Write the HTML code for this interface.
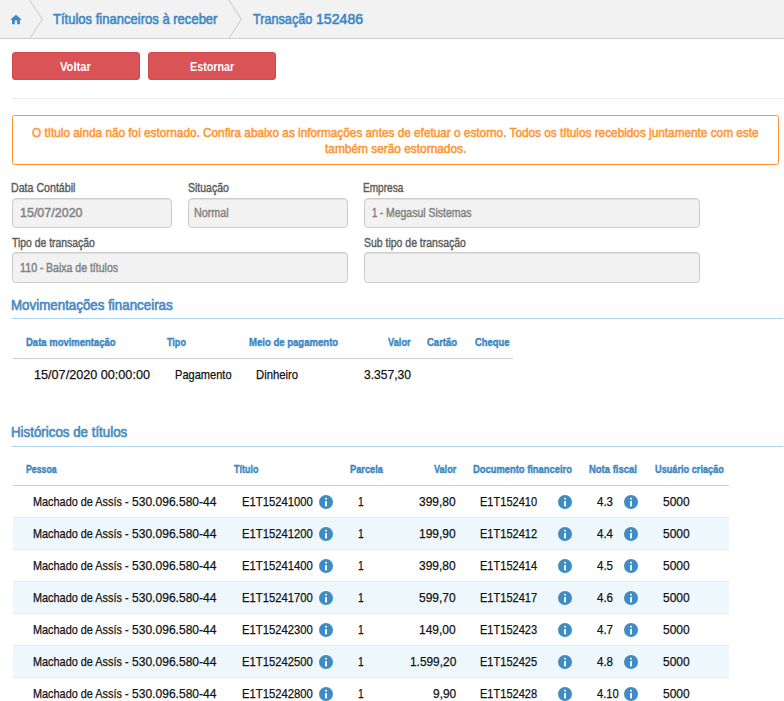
<!DOCTYPE html>
<html><head><meta charset="utf-8"><title>Transação 152486</title>
<style>
html,body{margin:0;padding:0;background:#fff}
body{width:784px;height:701px;position:relative;overflow:hidden;font-family:"Liberation Sans",sans-serif}
.t{position:absolute;display:inline-block;white-space:nowrap;line-height:1;transform-origin:0 50%;font-family:"Liberation Sans",sans-serif}
.ic{position:absolute}
</style></head><body>
<div style="position:absolute;left:0;top:0;width:784px;height:38px;background:#f2f2f2;border-bottom:1px solid #cfcfcf"></div>
<svg style="position:absolute;left:0;top:0" width="784" height="39" viewBox="0 0 784 39"><g fill="none" stroke="#d3d3d3" stroke-width="1.2"><polyline points="29.5,0 42.3,19.3 30.2,38"/><polyline points="228.7,0 241.3,19.3 229.2,38"/></g><g transform="translate(9.2,13) scale(0.565)"><path d="M10 20v-6.8h4v6.8h5v-8h3.4L12 3 1.6 12h3.4v8z" fill="#3b8ac4"/></g></svg>
<div style="position:absolute;left:12px;top:52px;width:128px;height:28px;box-sizing:border-box;background:#da5356;border:1px solid #d4484b;border-radius:3px"></div>
<div style="position:absolute;left:148px;top:52px;width:128px;height:28px;box-sizing:border-box;background:#da5356;border:1px solid #d4484b;border-radius:3px"></div>
<div style="position:absolute;left:12px;top:98px;width:771px;height:1px;background:#e9e9e9"></div>
<div style="position:absolute;left:12px;top:115px;width:767px;height:50px;box-sizing:border-box;border:1px solid #ff922e;border-radius:2.5px;background:#fff"></div>
<div style="position:absolute;left:12px;top:198px;width:160px;height:30px;box-sizing:border-box;border:1px solid #cccccc;border-radius:4px;background:#f2f2f2;box-shadow:inset 0 1px 1px rgba(0,0,0,.075)"></div>
<div style="position:absolute;left:188px;top:198px;width:160px;height:30px;box-sizing:border-box;border:1px solid #cccccc;border-radius:4px;background:#f2f2f2;box-shadow:inset 0 1px 1px rgba(0,0,0,.075)"></div>
<div style="position:absolute;left:364px;top:198px;width:336px;height:30px;box-sizing:border-box;border:1px solid #cccccc;border-radius:4px;background:#f2f2f2;box-shadow:inset 0 1px 1px rgba(0,0,0,.075)"></div>
<div style="position:absolute;left:12px;top:252px;width:336px;height:31px;box-sizing:border-box;border:1px solid #cccccc;border-radius:4px;background:#f2f2f2;box-shadow:inset 0 1px 1px rgba(0,0,0,.075)"></div>
<div style="position:absolute;left:364px;top:252px;width:336px;height:31px;box-sizing:border-box;border:1px solid #cccccc;border-radius:4px;background:#f2f2f2;box-shadow:inset 0 1px 1px rgba(0,0,0,.075)"></div>
<div style="position:absolute;left:12px;top:318px;width:771px;height:1px;background:#aad4ee"></div>
<div style="position:absolute;left:12px;top:446px;width:771px;height:1px;background:#aad4ee"></div>
<div style="position:absolute;left:13px;top:358px;width:500px;height:1px;background:#cccccc"></div>
<div style="position:absolute;left:13px;top:485px;width:716px;height:1px;background:#cccccc"></div>
<svg class="ic" style="left:318px;top:494px" width="16" height="16" viewBox="0 0 16 16"><circle cx="8" cy="8" r="7" fill="#3f8bc3"/><rect x="7.1" y="3.9" width="1.9" height="1.6" fill="#fff"/><rect x="7.1" y="7.1" width="1.9" height="5.3" fill="#fff"/></svg>
<svg class="ic" style="left:557px;top:494px" width="16" height="16" viewBox="0 0 16 16"><circle cx="8" cy="8" r="7" fill="#3f8bc3"/><rect x="7.1" y="3.9" width="1.9" height="1.6" fill="#fff"/><rect x="7.1" y="7.1" width="1.9" height="5.3" fill="#fff"/></svg>
<svg class="ic" style="left:623px;top:494px" width="16" height="16" viewBox="0 0 16 16"><circle cx="8" cy="8" r="7" fill="#3f8bc3"/><rect x="7.1" y="3.9" width="1.9" height="1.6" fill="#fff"/><rect x="7.1" y="7.1" width="1.9" height="5.3" fill="#fff"/></svg>
<div style="position:absolute;left:13px;top:517px;width:716px;height:1px;background:#dceef6"></div>
<div style="position:absolute;left:13px;top:518px;width:716px;height:31px;background:#eef7fc"></div>
<svg class="ic" style="left:318px;top:526px" width="16" height="16" viewBox="0 0 16 16"><circle cx="8" cy="8" r="7" fill="#3f8bc3"/><rect x="7.1" y="3.9" width="1.9" height="1.6" fill="#fff"/><rect x="7.1" y="7.1" width="1.9" height="5.3" fill="#fff"/></svg>
<svg class="ic" style="left:557px;top:526px" width="16" height="16" viewBox="0 0 16 16"><circle cx="8" cy="8" r="7" fill="#3f8bc3"/><rect x="7.1" y="3.9" width="1.9" height="1.6" fill="#fff"/><rect x="7.1" y="7.1" width="1.9" height="5.3" fill="#fff"/></svg>
<svg class="ic" style="left:623px;top:526px" width="16" height="16" viewBox="0 0 16 16"><circle cx="8" cy="8" r="7" fill="#3f8bc3"/><rect x="7.1" y="3.9" width="1.9" height="1.6" fill="#fff"/><rect x="7.1" y="7.1" width="1.9" height="5.3" fill="#fff"/></svg>
<div style="position:absolute;left:13px;top:549px;width:716px;height:1px;background:#dceef6"></div>
<svg class="ic" style="left:318px;top:558px" width="16" height="16" viewBox="0 0 16 16"><circle cx="8" cy="8" r="7" fill="#3f8bc3"/><rect x="7.1" y="3.9" width="1.9" height="1.6" fill="#fff"/><rect x="7.1" y="7.1" width="1.9" height="5.3" fill="#fff"/></svg>
<svg class="ic" style="left:557px;top:558px" width="16" height="16" viewBox="0 0 16 16"><circle cx="8" cy="8" r="7" fill="#3f8bc3"/><rect x="7.1" y="3.9" width="1.9" height="1.6" fill="#fff"/><rect x="7.1" y="7.1" width="1.9" height="5.3" fill="#fff"/></svg>
<svg class="ic" style="left:623px;top:558px" width="16" height="16" viewBox="0 0 16 16"><circle cx="8" cy="8" r="7" fill="#3f8bc3"/><rect x="7.1" y="3.9" width="1.9" height="1.6" fill="#fff"/><rect x="7.1" y="7.1" width="1.9" height="5.3" fill="#fff"/></svg>
<div style="position:absolute;left:13px;top:581px;width:716px;height:1px;background:#dceef6"></div>
<div style="position:absolute;left:13px;top:582px;width:716px;height:31px;background:#eef7fc"></div>
<svg class="ic" style="left:318px;top:590px" width="16" height="16" viewBox="0 0 16 16"><circle cx="8" cy="8" r="7" fill="#3f8bc3"/><rect x="7.1" y="3.9" width="1.9" height="1.6" fill="#fff"/><rect x="7.1" y="7.1" width="1.9" height="5.3" fill="#fff"/></svg>
<svg class="ic" style="left:557px;top:590px" width="16" height="16" viewBox="0 0 16 16"><circle cx="8" cy="8" r="7" fill="#3f8bc3"/><rect x="7.1" y="3.9" width="1.9" height="1.6" fill="#fff"/><rect x="7.1" y="7.1" width="1.9" height="5.3" fill="#fff"/></svg>
<svg class="ic" style="left:623px;top:590px" width="16" height="16" viewBox="0 0 16 16"><circle cx="8" cy="8" r="7" fill="#3f8bc3"/><rect x="7.1" y="3.9" width="1.9" height="1.6" fill="#fff"/><rect x="7.1" y="7.1" width="1.9" height="5.3" fill="#fff"/></svg>
<div style="position:absolute;left:13px;top:613px;width:716px;height:1px;background:#dceef6"></div>
<svg class="ic" style="left:318px;top:622px" width="16" height="16" viewBox="0 0 16 16"><circle cx="8" cy="8" r="7" fill="#3f8bc3"/><rect x="7.1" y="3.9" width="1.9" height="1.6" fill="#fff"/><rect x="7.1" y="7.1" width="1.9" height="5.3" fill="#fff"/></svg>
<svg class="ic" style="left:557px;top:622px" width="16" height="16" viewBox="0 0 16 16"><circle cx="8" cy="8" r="7" fill="#3f8bc3"/><rect x="7.1" y="3.9" width="1.9" height="1.6" fill="#fff"/><rect x="7.1" y="7.1" width="1.9" height="5.3" fill="#fff"/></svg>
<svg class="ic" style="left:623px;top:622px" width="16" height="16" viewBox="0 0 16 16"><circle cx="8" cy="8" r="7" fill="#3f8bc3"/><rect x="7.1" y="3.9" width="1.9" height="1.6" fill="#fff"/><rect x="7.1" y="7.1" width="1.9" height="5.3" fill="#fff"/></svg>
<div style="position:absolute;left:13px;top:645px;width:716px;height:1px;background:#dceef6"></div>
<div style="position:absolute;left:13px;top:646px;width:716px;height:31px;background:#eef7fc"></div>
<svg class="ic" style="left:318px;top:654px" width="16" height="16" viewBox="0 0 16 16"><circle cx="8" cy="8" r="7" fill="#3f8bc3"/><rect x="7.1" y="3.9" width="1.9" height="1.6" fill="#fff"/><rect x="7.1" y="7.1" width="1.9" height="5.3" fill="#fff"/></svg>
<svg class="ic" style="left:557px;top:654px" width="16" height="16" viewBox="0 0 16 16"><circle cx="8" cy="8" r="7" fill="#3f8bc3"/><rect x="7.1" y="3.9" width="1.9" height="1.6" fill="#fff"/><rect x="7.1" y="7.1" width="1.9" height="5.3" fill="#fff"/></svg>
<svg class="ic" style="left:623px;top:654px" width="16" height="16" viewBox="0 0 16 16"><circle cx="8" cy="8" r="7" fill="#3f8bc3"/><rect x="7.1" y="3.9" width="1.9" height="1.6" fill="#fff"/><rect x="7.1" y="7.1" width="1.9" height="5.3" fill="#fff"/></svg>
<div style="position:absolute;left:13px;top:677px;width:716px;height:1px;background:#dceef6"></div>
<svg class="ic" style="left:318px;top:686px" width="16" height="16" viewBox="0 0 16 16"><circle cx="8" cy="8" r="7" fill="#3f8bc3"/><rect x="7.1" y="3.9" width="1.9" height="1.6" fill="#fff"/><rect x="7.1" y="7.1" width="1.9" height="5.3" fill="#fff"/></svg>
<svg class="ic" style="left:557px;top:686px" width="16" height="16" viewBox="0 0 16 16"><circle cx="8" cy="8" r="7" fill="#3f8bc3"/><rect x="7.1" y="3.9" width="1.9" height="1.6" fill="#fff"/><rect x="7.1" y="7.1" width="1.9" height="5.3" fill="#fff"/></svg>
<svg class="ic" style="left:623px;top:686px" width="16" height="16" viewBox="0 0 16 16"><circle cx="8" cy="8" r="7" fill="#3f8bc3"/><rect x="7.1" y="3.9" width="1.9" height="1.6" fill="#fff"/><rect x="7.1" y="7.1" width="1.9" height="5.3" fill="#fff"/></svg>
<span class="t" id="t0" style="left:53.26px;top:11.30px;font-size:15px;font-weight:400;color:#3d87c6;-webkit-text-stroke:0.6px #3d87c6;transform:scaleX(0.8690)">Títulos financeiros à receber</span>
<span class="t" id="t1" style="left:252.75px;top:11.30px;font-size:15px;font-weight:400;color:#3d87c6;-webkit-text-stroke:0.6px #3d87c6;transform:scaleX(0.8431)">Transação</span>
<span class="t" id="t2" style="left:316.09px;top:11.30px;font-size:15px;font-weight:400;color:#3d87c6;-webkit-text-stroke:0.6px #3d87c6;transform:scaleX(0.9430)">152486</span>
<span class="t" id="t3" style="left:60.00px;top:60.00px;font-size:13px;font-weight:700;color:#ffffff;transform:scaleX(0.8585)">Voltar</span>
<span class="t" id="t4" style="left:189.50px;top:60.00px;font-size:13px;font-weight:700;color:#ffffff;transform:scaleX(0.8286)">Estornar</span>
<span class="t" id="t5" style="left:32.00px;top:126.00px;font-size:13px;font-weight:400;color:#ff9632;-webkit-text-stroke:0.55px #ff9632;transform:scaleX(0.9068)">O título ainda não foi estornado. Confira abaixo as informações antes de efetuar o estorno. Todos os títulos recebidos juntamente com este</span>
<span class="t" id="t6" style="left:325.00px;top:142.00px;font-size:13px;font-weight:400;color:#ff9632;-webkit-text-stroke:0.55px #ff9632;transform:scaleX(0.9138)">também serão estornados.</span>
<span class="t" id="t7" style="left:11.37px;top:181.00px;font-size:13px;font-weight:400;color:#5e5e5e;-webkit-text-stroke:0.45px #5e5e5e;transform:scaleX(0.8171)">Data Contábil</span>
<span class="t" id="t8" style="left:188.18px;top:181.00px;font-size:13px;font-weight:400;color:#5e5e5e;-webkit-text-stroke:0.45px #5e5e5e;transform:scaleX(0.8069)">Situação</span>
<span class="t" id="t9" style="left:363.40px;top:181.00px;font-size:13px;font-weight:400;color:#5e5e5e;-webkit-text-stroke:0.45px #5e5e5e;transform:scaleX(0.7753)">Empresa</span>
<span class="t" id="t10" style="left:12.18px;top:236.00px;font-size:13px;font-weight:400;color:#5e5e5e;-webkit-text-stroke:0.45px #5e5e5e;transform:scaleX(0.7996)">Tipo de transação</span>
<span class="t" id="t11" style="left:364.18px;top:236.00px;font-size:13px;font-weight:400;color:#5e5e5e;-webkit-text-stroke:0.45px #5e5e5e;transform:scaleX(0.8051)">Sub tipo de transação</span>
<span class="t" id="t12" style="left:20.22px;top:206.00px;font-size:13px;font-weight:400;color:#828282;-webkit-text-stroke:0.45px #828282;transform:scaleX(0.9612)">15/07/2020</span>
<span class="t" id="t13" style="left:194.36px;top:206.00px;font-size:13px;font-weight:400;color:#828282;-webkit-text-stroke:0.45px #828282;transform:scaleX(0.8262)">Normal</span>
<span class="t" id="t14" style="left:372.42px;top:206.00px;font-size:13px;font-weight:400;color:#828282;-webkit-text-stroke:0.45px #828282;transform:scaleX(0.7357)">1 -</span>
<span class="t" id="t15" style="left:385.88px;top:206.00px;font-size:13px;font-weight:400;color:#828282;-webkit-text-stroke:0.45px #828282;transform:scaleX(0.8054)">Megasul Sistemas</span>
<span class="t" id="t16" style="left:19.94px;top:261.00px;font-size:13px;font-weight:400;color:#828282;-webkit-text-stroke:0.45px #828282;transform:scaleX(0.8250)">110 -</span>
<span class="t" id="t17" style="left:45.87px;top:261.00px;font-size:13px;font-weight:400;color:#828282;-webkit-text-stroke:0.45px #828282;transform:scaleX(0.8105)">Baixa de títulos</span>
<span class="t" id="t18" style="left:11.42px;top:296.80px;font-size:15px;font-weight:400;color:#4a8bc2;-webkit-text-stroke:0.7px #4a8bc2;transform:scaleX(0.8897)">Movimentações financeiras</span>
<span class="t" id="t19" style="left:11.42px;top:424.30px;font-size:15px;font-weight:400;color:#4a8bc2;-webkit-text-stroke:0.7px #4a8bc2;transform:scaleX(0.8879)">Históricos de títulos</span>
<span class="t" id="t20" style="left:26.19px;top:337.27px;font-size:11.5px;font-weight:700;color:#3d88c2;-webkit-text-stroke:0.45px #3d88c2;transform:scaleX(0.8251)">Data movimentação</span>
<span class="t" id="t21" style="left:167.18px;top:337.27px;font-size:11.5px;font-weight:700;color:#3d88c2;-webkit-text-stroke:0.45px #3d88c2;transform:scaleX(0.7861)">Tipo</span>
<span class="t" id="t22" style="left:248.69px;top:337.27px;font-size:11.5px;font-weight:700;color:#3d88c2;-webkit-text-stroke:0.45px #3d88c2;transform:scaleX(0.8305)">Meio de pagamento</span>
<span class="t" id="t23" style="left:388.43px;top:337.27px;font-size:11.5px;font-weight:700;color:#3d88c2;-webkit-text-stroke:0.45px #3d88c2;transform:scaleX(0.8075)">Valor</span>
<span class="t" id="t24" style="left:427.44px;top:337.27px;font-size:11.5px;font-weight:700;color:#3d88c2;-webkit-text-stroke:0.45px #3d88c2;transform:scaleX(0.8276)">Cartão</span>
<span class="t" id="t25" style="left:474.68px;top:337.27px;font-size:11.5px;font-weight:700;color:#3d88c2;-webkit-text-stroke:0.45px #3d88c2;transform:scaleX(0.8171)">Cheque</span>
<span class="t" id="t26" style="left:34.12px;top:368.00px;font-size:13px;font-weight:400;color:#111111;-webkit-text-stroke:0.25px #111111;transform:scaleX(0.9723)">15/07/2020 00:00:00</span>
<span class="t" id="t27" style="left:174.76px;top:368.00px;font-size:13px;font-weight:400;color:#111111;-webkit-text-stroke:0.25px #111111;transform:scaleX(0.8510)">Pagamento</span>
<span class="t" id="t28" style="left:255.74px;top:368.00px;font-size:13px;font-weight:400;color:#111111;-webkit-text-stroke:0.25px #111111;transform:scaleX(0.8696)">Dinheiro</span>
<span class="t" id="t29" style="left:364.12px;top:368.00px;font-size:13px;font-weight:400;color:#111111;-webkit-text-stroke:0.25px #111111;transform:scaleX(0.9284)">3.357,30</span>
<span class="t" id="t30" style="left:26.17px;top:464.27px;font-size:11.5px;font-weight:700;color:#3d88c2;-webkit-text-stroke:0.45px #3d88c2;transform:scaleX(0.7621)">Pessoa</span>
<span class="t" id="t31" style="left:234.43px;top:464.27px;font-size:11.5px;font-weight:700;color:#3d88c2;-webkit-text-stroke:0.45px #3d88c2;transform:scaleX(0.7803)">Título</span>
<span class="t" id="t32" style="left:349.68px;top:464.27px;font-size:11.5px;font-weight:700;color:#3d88c2;-webkit-text-stroke:0.45px #3d88c2;transform:scaleX(0.8040)">Parcela</span>
<span class="t" id="t33" style="left:433.68px;top:464.27px;font-size:11.5px;font-weight:700;color:#3d88c2;-webkit-text-stroke:0.45px #3d88c2;transform:scaleX(0.7903)">Valor</span>
<span class="t" id="t34" style="left:472.93px;top:464.27px;font-size:11.5px;font-weight:700;color:#3d88c2;-webkit-text-stroke:0.45px #3d88c2;transform:scaleX(0.8147)">Documento financeiro</span>
<span class="t" id="t35" style="left:588.68px;top:464.27px;font-size:11.5px;font-weight:700;color:#3d88c2;-webkit-text-stroke:0.45px #3d88c2;transform:scaleX(0.8218)">Nota fiscal</span>
<span class="t" id="t36" style="left:654.68px;top:464.27px;font-size:11.5px;font-weight:700;color:#3d88c2;-webkit-text-stroke:0.45px #3d88c2;transform:scaleX(0.7986)">Usuário criação</span>
<span class="t" id="t37" style="left:32.77px;top:495.00px;font-size:13px;font-weight:400;color:#111111;-webkit-text-stroke:0.25px #111111;transform:scaleX(0.8369)">Machado de Assís -</span>
<span class="t" id="t38" style="left:131.87px;top:495.00px;font-size:13px;font-weight:400;color:#111111;-webkit-text-stroke:0.25px #111111;transform:scaleX(0.9275)">530.096.580-44</span>
<span class="t" id="t39" style="left:241.74px;top:495.00px;font-size:13px;font-weight:400;color:#111111;-webkit-text-stroke:0.25px #111111;transform:scaleX(0.8674)">E1T15241000</span>
<span class="t" id="t40" style="left:358.10px;top:495.00px;font-size:13px;font-weight:400;color:#111111;-webkit-text-stroke:0.25px #111111;transform:scaleX(0.7931)">1</span>
<span class="t" id="t41" style="left:419.12px;top:495.00px;font-size:13px;font-weight:400;color:#111111;-webkit-text-stroke:0.25px #111111;transform:scaleX(0.9238)">399,80</span>
<span class="t" id="t42" style="left:479.76px;top:495.00px;font-size:13px;font-weight:400;color:#111111;-webkit-text-stroke:0.25px #111111;transform:scaleX(0.8492)">E1T152410</span>
<span class="t" id="t43" style="left:596.61px;top:495.00px;font-size:13px;font-weight:400;color:#111111;-webkit-text-stroke:0.25px #111111;transform:scaleX(0.8844)">4.3</span>
<span class="t" id="t44" style="left:662.62px;top:495.00px;font-size:13px;font-weight:400;color:#111111;-webkit-text-stroke:0.25px #111111;transform:scaleX(0.9243)">5000</span>
<span class="t" id="t45" style="left:32.77px;top:527.00px;font-size:13px;font-weight:400;color:#111111;-webkit-text-stroke:0.25px #111111;transform:scaleX(0.8369)">Machado de Assís -</span>
<span class="t" id="t46" style="left:131.87px;top:527.00px;font-size:13px;font-weight:400;color:#111111;-webkit-text-stroke:0.25px #111111;transform:scaleX(0.9275)">530.096.580-44</span>
<span class="t" id="t47" style="left:241.74px;top:527.00px;font-size:13px;font-weight:400;color:#111111;-webkit-text-stroke:0.25px #111111;transform:scaleX(0.8674)">E1T15241200</span>
<span class="t" id="t48" style="left:358.10px;top:527.00px;font-size:13px;font-weight:400;color:#111111;-webkit-text-stroke:0.25px #111111;transform:scaleX(0.7931)">1</span>
<span class="t" id="t49" style="left:419.12px;top:527.00px;font-size:13px;font-weight:400;color:#111111;-webkit-text-stroke:0.25px #111111;transform:scaleX(0.9238)">199,90</span>
<span class="t" id="t50" style="left:479.76px;top:527.00px;font-size:13px;font-weight:400;color:#111111;-webkit-text-stroke:0.25px #111111;transform:scaleX(0.8492)">E1T152412</span>
<span class="t" id="t51" style="left:596.61px;top:527.00px;font-size:13px;font-weight:400;color:#111111;-webkit-text-stroke:0.25px #111111;transform:scaleX(0.8844)">4.4</span>
<span class="t" id="t52" style="left:662.62px;top:527.00px;font-size:13px;font-weight:400;color:#111111;-webkit-text-stroke:0.25px #111111;transform:scaleX(0.9243)">5000</span>
<span class="t" id="t53" style="left:32.77px;top:559.00px;font-size:13px;font-weight:400;color:#111111;-webkit-text-stroke:0.25px #111111;transform:scaleX(0.8369)">Machado de Assís -</span>
<span class="t" id="t54" style="left:131.87px;top:559.00px;font-size:13px;font-weight:400;color:#111111;-webkit-text-stroke:0.25px #111111;transform:scaleX(0.9275)">530.096.580-44</span>
<span class="t" id="t55" style="left:241.74px;top:559.00px;font-size:13px;font-weight:400;color:#111111;-webkit-text-stroke:0.25px #111111;transform:scaleX(0.8674)">E1T15241400</span>
<span class="t" id="t56" style="left:358.10px;top:559.00px;font-size:13px;font-weight:400;color:#111111;-webkit-text-stroke:0.25px #111111;transform:scaleX(0.7931)">1</span>
<span class="t" id="t57" style="left:419.12px;top:559.00px;font-size:13px;font-weight:400;color:#111111;-webkit-text-stroke:0.25px #111111;transform:scaleX(0.9238)">399,80</span>
<span class="t" id="t58" style="left:479.76px;top:559.00px;font-size:13px;font-weight:400;color:#111111;-webkit-text-stroke:0.25px #111111;transform:scaleX(0.8492)">E1T152414</span>
<span class="t" id="t59" style="left:596.61px;top:559.00px;font-size:13px;font-weight:400;color:#111111;-webkit-text-stroke:0.25px #111111;transform:scaleX(0.8844)">4.5</span>
<span class="t" id="t60" style="left:662.62px;top:559.00px;font-size:13px;font-weight:400;color:#111111;-webkit-text-stroke:0.25px #111111;transform:scaleX(0.9243)">5000</span>
<span class="t" id="t61" style="left:32.77px;top:591.00px;font-size:13px;font-weight:400;color:#111111;-webkit-text-stroke:0.25px #111111;transform:scaleX(0.8369)">Machado de Assís -</span>
<span class="t" id="t62" style="left:131.87px;top:591.00px;font-size:13px;font-weight:400;color:#111111;-webkit-text-stroke:0.25px #111111;transform:scaleX(0.9275)">530.096.580-44</span>
<span class="t" id="t63" style="left:241.74px;top:591.00px;font-size:13px;font-weight:400;color:#111111;-webkit-text-stroke:0.25px #111111;transform:scaleX(0.8674)">E1T15241700</span>
<span class="t" id="t64" style="left:358.10px;top:591.00px;font-size:13px;font-weight:400;color:#111111;-webkit-text-stroke:0.25px #111111;transform:scaleX(0.7931)">1</span>
<span class="t" id="t65" style="left:419.12px;top:591.00px;font-size:13px;font-weight:400;color:#111111;-webkit-text-stroke:0.25px #111111;transform:scaleX(0.9238)">599,70</span>
<span class="t" id="t66" style="left:479.76px;top:591.00px;font-size:13px;font-weight:400;color:#111111;-webkit-text-stroke:0.25px #111111;transform:scaleX(0.8492)">E1T152417</span>
<span class="t" id="t67" style="left:596.61px;top:591.00px;font-size:13px;font-weight:400;color:#111111;-webkit-text-stroke:0.25px #111111;transform:scaleX(0.8844)">4.6</span>
<span class="t" id="t68" style="left:662.62px;top:591.00px;font-size:13px;font-weight:400;color:#111111;-webkit-text-stroke:0.25px #111111;transform:scaleX(0.9243)">5000</span>
<span class="t" id="t69" style="left:32.77px;top:623.00px;font-size:13px;font-weight:400;color:#111111;-webkit-text-stroke:0.25px #111111;transform:scaleX(0.8369)">Machado de Assís -</span>
<span class="t" id="t70" style="left:131.87px;top:623.00px;font-size:13px;font-weight:400;color:#111111;-webkit-text-stroke:0.25px #111111;transform:scaleX(0.9275)">530.096.580-44</span>
<span class="t" id="t71" style="left:241.74px;top:623.00px;font-size:13px;font-weight:400;color:#111111;-webkit-text-stroke:0.25px #111111;transform:scaleX(0.8674)">E1T15242300</span>
<span class="t" id="t72" style="left:358.10px;top:623.00px;font-size:13px;font-weight:400;color:#111111;-webkit-text-stroke:0.25px #111111;transform:scaleX(0.7931)">1</span>
<span class="t" id="t73" style="left:419.12px;top:623.00px;font-size:13px;font-weight:400;color:#111111;-webkit-text-stroke:0.25px #111111;transform:scaleX(0.9238)">149,00</span>
<span class="t" id="t74" style="left:479.76px;top:623.00px;font-size:13px;font-weight:400;color:#111111;-webkit-text-stroke:0.25px #111111;transform:scaleX(0.8492)">E1T152423</span>
<span class="t" id="t75" style="left:596.61px;top:623.00px;font-size:13px;font-weight:400;color:#111111;-webkit-text-stroke:0.25px #111111;transform:scaleX(0.8844)">4.7</span>
<span class="t" id="t76" style="left:662.62px;top:623.00px;font-size:13px;font-weight:400;color:#111111;-webkit-text-stroke:0.25px #111111;transform:scaleX(0.9243)">5000</span>
<span class="t" id="t77" style="left:32.77px;top:655.00px;font-size:13px;font-weight:400;color:#111111;-webkit-text-stroke:0.25px #111111;transform:scaleX(0.8369)">Machado de Assís -</span>
<span class="t" id="t78" style="left:131.87px;top:655.00px;font-size:13px;font-weight:400;color:#111111;-webkit-text-stroke:0.25px #111111;transform:scaleX(0.9275)">530.096.580-44</span>
<span class="t" id="t79" style="left:241.74px;top:655.00px;font-size:13px;font-weight:400;color:#111111;-webkit-text-stroke:0.25px #111111;transform:scaleX(0.8674)">E1T15242500</span>
<span class="t" id="t80" style="left:358.10px;top:655.00px;font-size:13px;font-weight:400;color:#111111;-webkit-text-stroke:0.25px #111111;transform:scaleX(0.7931)">1</span>
<span class="t" id="t81" style="left:409.61px;top:655.00px;font-size:13px;font-weight:400;color:#111111;-webkit-text-stroke:0.25px #111111;transform:scaleX(0.9136)">1.599,20</span>
<span class="t" id="t82" style="left:479.76px;top:655.00px;font-size:13px;font-weight:400;color:#111111;-webkit-text-stroke:0.25px #111111;transform:scaleX(0.8492)">E1T152425</span>
<span class="t" id="t83" style="left:596.61px;top:655.00px;font-size:13px;font-weight:400;color:#111111;-webkit-text-stroke:0.25px #111111;transform:scaleX(0.8844)">4.8</span>
<span class="t" id="t84" style="left:662.62px;top:655.00px;font-size:13px;font-weight:400;color:#111111;-webkit-text-stroke:0.25px #111111;transform:scaleX(0.9243)">5000</span>
<span class="t" id="t85" style="left:32.77px;top:687.00px;font-size:13px;font-weight:400;color:#111111;-webkit-text-stroke:0.25px #111111;transform:scaleX(0.8369)">Machado de Assís -</span>
<span class="t" id="t86" style="left:131.87px;top:687.00px;font-size:13px;font-weight:400;color:#111111;-webkit-text-stroke:0.25px #111111;transform:scaleX(0.9275)">530.096.580-44</span>
<span class="t" id="t87" style="left:241.74px;top:687.00px;font-size:13px;font-weight:400;color:#111111;-webkit-text-stroke:0.25px #111111;transform:scaleX(0.8674)">E1T15242800</span>
<span class="t" id="t88" style="left:358.10px;top:687.00px;font-size:13px;font-weight:400;color:#111111;-webkit-text-stroke:0.25px #111111;transform:scaleX(0.7931)">1</span>
<span class="t" id="t89" style="left:432.61px;top:687.00px;font-size:13px;font-weight:400;color:#111111;-webkit-text-stroke:0.25px #111111;transform:scaleX(0.9182)">9,90</span>
<span class="t" id="t90" style="left:479.76px;top:687.00px;font-size:13px;font-weight:400;color:#111111;-webkit-text-stroke:0.25px #111111;transform:scaleX(0.8492)">E1T152428</span>
<span class="t" id="t91" style="left:596.61px;top:687.00px;font-size:13px;font-weight:400;color:#111111;-webkit-text-stroke:0.25px #111111;transform:scaleX(0.8589)">4.10</span>
<span class="t" id="t92" style="left:662.62px;top:687.00px;font-size:13px;font-weight:400;color:#111111;-webkit-text-stroke:0.25px #111111;transform:scaleX(0.9243)">5000</span>
</body></html>
